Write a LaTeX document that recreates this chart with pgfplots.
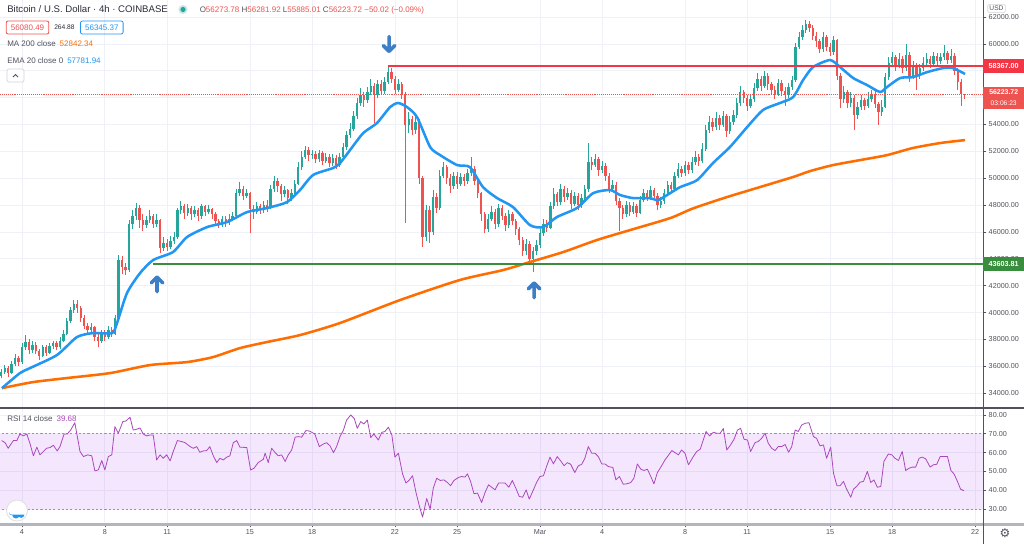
\documentclass[border=0pt]{standalone}
\usepackage{fontspec}
\setmainfont{Liberation Sans}
\newfontfamily\dejavu{DejaVu Sans}
\usepackage{pgfplots}
\pgfplotsset{compat=1.18}
\usepackage{pgfplotstable}
\definecolor{up}{HTML}{26A69A}
\definecolor{dn}{HTML}{EF5350}
\definecolor{ema}{HTML}{2196F3}
\definecolor{ma}{HTML}{FF6D00}
\definecolor{gridc}{HTML}{EEF1F7}
\definecolor{txt}{HTML}{50535E}
\definecolor{titlec}{HTML}{2A2E39}
\definecolor{axc}{HTML}{50535E}
\definecolor{resline}{HTML}{F23645}
\definecolor{supline}{HTML}{388E3C}
\definecolor{rsi}{HTML}{AB47BC}
\definecolor{rsibase}{HTML}{9C27F0}
\definecolor{dashc}{HTML}{9598A1}
\definecolor{arrowblue}{HTML}{3D7FC6}
\definecolor{botc}{HTML}{B2B5BE}

\pgfplotstableread{
o h l c
35.3 35.8 35.1 35.6
35.6 36.1 35.4 35.9
35.9 36.0 35.2 35.5
35.5 36.4 35.4 36.2
36.2 36.9 36.0 36.6
36.6 36.8 36.0 36.3
36.3 37.7 36.2 37.4
37.4 38.3 37.2 37.8
37.8 38.0 36.9 37.2
37.2 37.9 37.0 37.6
37.6 37.8 36.9 37.1
37.1 37.3 36.5 36.8
36.8 37.6 36.7 37.4
37.4 37.6 36.8 37.0
37.0 37.7 36.9 37.5
37.5 37.9 37.3 37.7
37.7 37.9 37.2 37.4
37.4 38.2 37.3 37.9
37.9 38.7 37.8 38.4
38.4 39.6 38.3 39.4
39.4 40.4 39.2 40.2
40.2 40.9 40.0 40.6
40.6 40.9 40.0 40.3
40.3 40.5 39.3 39.6
39.6 39.8 38.8 39.0
39.0 39.2 38.5 38.7
38.7 39.2 38.5 38.9
38.9 39.0 37.9 38.2
38.2 38.4 37.4 37.9
37.9 38.7 37.7 38.5
38.5 38.7 37.9 38.2
38.2 39.0 38.0 38.7
38.7 38.9 38.2 38.4
38.4 39.8 38.3 39.6
39.6 44.3 39.5 43.9
43.9 44.2 42.9 43.4
43.4 43.7 42.8 43.2
43.2 46.9 43.0 46.6
46.6 47.6 46.2 47.2
47.2 48.15 46.9 47.8
47.8 48.0 46.3 46.9
46.9 47.3 46.1 46.5
46.5 47.2 46.3 46.9
46.9 47.6 46.7 47.2
47.2 47.3 46.3 46.6
46.6 47.3 46.4 46.9
46.9 47.0 44.4 44.8
44.8 45.6 44.6 45.2
45.2 45.5 44.6 44.9
44.9 45.7 44.7 45.3
45.3 46.0 45.1 45.6
45.6 47.8 45.5 47.6
47.6 48.3 47.3 47.9
47.9 48.1 47.0 47.4
47.4 48.1 47.2 47.8
47.8 47.9 46.9 47.3
47.3 47.9 47.1 47.6
47.6 47.8 46.8 47.2
47.2 48.1 47.0 47.9
47.9 48.0 47.2 47.5
47.5 48.0 47.3 47.7
47.7 47.8 47.0 47.3
47.3 47.5 46.5 46.8
46.8 47.0 46.3 46.6
46.6 47.2 46.4 47.0
47.0 47.2 46.4 46.7
46.7 47.3 46.5 47.0
47.0 47.5 46.8 47.2
47.2 49.2 47.1 48.9
48.9 49.7 48.7 49.2
49.2 49.4 48.4 48.7
48.7 49.2 48.5 48.9
48.9 49.0 45.9 47.7
47.7 48.0 47.0 47.5
47.5 48.2 47.3 47.9
47.9 48.1 47.3 47.6
47.6 48.3 47.4 48.0
48.0 48.4 47.5 47.8
47.8 49.5 47.7 49.2
49.2 50.2 49.0 49.8
49.8 50.0 49.0 49.4
49.4 49.6 48.3 48.8
48.8 49.4 48.6 49.1
49.1 49.2 48.1 48.5
48.5 49.2 48.3 48.9
48.9 49.9 48.7 49.6
49.6 51.2 49.5 50.8
50.8 52.0 50.6 51.6
51.6 52.4 51.4 52.1
52.1 52.3 51.3 51.7
51.7 52.1 51.4 51.8
51.8 52.0 51.1 51.4
51.4 52.1 51.2 51.9
51.9 52.0 51.0 51.3
51.3 51.9 51.1 51.6
51.6 51.8 50.8 51.1
51.1 51.8 50.9 51.5
51.5 51.7 50.7 51.0
51.0 51.9 50.8 51.6
51.6 52.6 51.4 52.3
52.3 53.5 52.1 53.2
53.2 54.1 53.0 53.7
53.7 55.0 53.5 54.6
54.6 56.0 54.4 55.6
55.6 56.7 55.4 56.2
56.2 56.4 55.3 55.8
55.8 56.8 55.6 56.4
56.4 57.4 56.2 56.9
56.9 57.1 54.1 56.2
56.2 57.3 56.0 57.0
57.0 57.3 56.2 56.5
56.5 57.5 56.3 57.2
57.2 58.37 57.0 57.9
57.9 58.2 57.1 57.4
57.4 57.6 56.3 56.6
56.6 57.4 56.4 57.0
57.0 57.2 55.9 56.2
56.2 56.4 46.7 54.0
54.0 54.9 53.4 54.4
54.4 54.6 53.2 53.6
53.6 54.6 53.3 54.2
54.2 54.4 49.6 50.0
50.0 50.2 44.9 45.6
45.6 48.0 45.3 47.6
47.6 47.9 45.2 46.0
46.0 49.1 45.8 48.6
48.6 48.9 47.4 47.8
47.8 50.6 47.6 50.2
50.2 51.2 50.0 50.8
50.8 51.0 49.6 50.0
50.0 50.3 48.9 49.4
49.4 50.5 49.2 50.2
50.2 50.5 49.2 49.6
49.6 50.4 49.4 50.1
50.1 50.3 49.4 49.8
49.8 50.7 49.6 50.4
50.4 51.6 50.2 50.7
50.7 50.9 49.5 49.8
49.8 50.0 48.5 48.9
48.9 49.0 46.8 47.3
47.3 47.5 45.9 46.2
46.2 47.3 46.0 47.0
47.0 47.9 46.8 47.5
47.5 47.7 46.2 46.6
46.6 48.1 46.4 47.8
47.8 48.0 46.9 47.2
47.2 47.4 46.1 46.5
46.5 47.6 46.3 47.3
47.3 47.5 46.5 46.8
46.8 47.0 45.8 46.2
46.2 46.4 45.0 45.4
45.4 45.6 44.2 44.6
44.6 45.5 44.3 45.1
45.1 45.3 43.6 44.0
44.0 44.9 43.0 44.6
44.6 45.4 44.3 45.0
45.0 46.2 44.8 45.9
45.9 47.0 45.7 46.6
46.6 46.9 46.0 46.3
46.3 48.2 46.2 47.9
47.9 49.3 47.7 48.8
48.8 49.0 47.9 48.2
48.2 49.6 48.0 49.2
49.2 49.4 48.2 48.6
48.6 49.3 48.4 48.9
48.9 49.1 47.7 48.1
48.1 49.0 47.9 48.7
48.7 48.9 47.6 48.0
48.0 48.8 47.8 48.5
48.5 49.5 48.3 49.2
49.2 52.6 49.0 51.2
51.2 51.6 50.6 51.0
51.0 51.8 50.8 51.4
51.4 51.6 50.2 50.6
50.6 51.3 50.4 50.9
50.9 51.1 49.8 50.2
50.2 50.4 48.9 49.2
49.2 49.9 49.0 49.5
49.5 49.7 48.0 48.3
48.3 48.5 46.1 47.8
47.8 48.0 47.0 47.3
47.3 48.3 47.1 48.0
48.0 48.2 47.2 47.5
47.5 48.2 47.3 47.9
47.9 48.1 47.1 47.4
47.4 48.7 47.3 48.4
48.4 49.2 48.2 48.9
48.9 49.1 48.3 48.6
48.6 49.4 48.4 49.1
49.1 49.3 48.4 48.7
48.7 48.9 47.6 48.0
48.0 48.6 47.8 48.3
48.3 49.2 48.1 48.9
48.9 49.8 48.7 49.5
49.5 49.7 48.9 49.2
49.2 50.5 49.0 50.2
50.2 51.1 50.0 50.7
50.7 50.9 50.1 50.4
50.4 51.3 50.2 51.0
51.0 51.2 50.3 50.6
50.6 51.6 50.4 51.2
51.2 52.0 51.0 51.6
51.6 51.8 50.9 51.3
51.3 52.6 51.1 52.2
52.2 54.0 52.0 53.6
53.6 54.6 53.4 54.2
54.2 54.5 53.5 53.8
53.8 54.9 53.6 54.5
54.5 54.7 53.6 54.0
54.0 55.0 53.8 54.6
54.6 54.8 53.1 53.5
53.5 54.6 53.3 54.2
54.2 55.1 54.0 54.7
54.7 56.0 54.5 55.6
55.6 56.9 55.4 56.4
56.4 56.6 55.6 56.0
56.0 56.2 55.0 55.4
55.4 56.3 55.2 55.9
55.9 57.1 55.7 56.7
56.7 57.8 56.5 57.4
57.4 57.6 56.5 56.9
56.9 58.0 56.7 57.6
57.6 57.8 56.6 57.0
57.0 57.2 56.2 56.6
56.6 56.9 55.9 56.3
56.3 57.4 56.1 57.1
57.1 57.3 56.1 56.5
56.5 56.8 55.4 56.2
56.2 57.1 56.0 56.8
56.8 57.6 56.6 57.3
57.3 60.1 57.2 59.8
59.8 60.9 59.6 60.5
60.5 61.4 60.3 61.0
61.0 61.8 60.8 61.5
61.5 61.7 60.9 61.2
61.2 61.4 60.3 60.6
60.6 60.9 59.8 60.2
60.2 60.4 59.3 59.6
59.6 60.9 59.4 60.5
60.5 60.7 59.5 59.8
59.8 60.1 59.1 59.4
59.4 60.6 59.2 60.3
60.3 60.4 57.3 57.6
57.6 57.8 55.2 55.9
55.9 56.9 55.6 56.4
56.4 56.6 55.2 55.6
55.6 56.4 55.3 56.0
56.0 56.2 53.6 54.7
54.7 55.7 54.4 55.3
55.3 56.2 55.1 55.8
55.8 56.0 55.1 55.4
55.4 56.4 55.2 55.9
55.9 56.6 55.7 56.3
56.3 56.5 55.2 55.5
55.5 55.7 54.0 54.9
54.9 55.8 54.6 55.3
55.3 57.8 55.2 57.5
57.5 59.0 57.3 58.6
58.6 59.4 58.4 59.0
59.0 59.2 58.0 58.4
58.4 59.3 58.2 58.9
58.9 59.1 57.8 58.2
58.2 60.0 58.0 59.2
59.2 59.4 57.2 57.6
57.6 58.7 57.4 58.4
58.4 58.6 56.6 57.6
57.6 58.5 57.4 58.2
58.2 59.0 58.0 58.6
58.6 59.3 58.4 58.9
58.9 59.1 58.2 58.5
58.5 59.4 58.3 59.1
59.1 59.3 58.4 58.7
58.7 59.3 58.5 59.0
59.0 59.9 58.8 59.3
59.3 59.5 58.5 58.8
58.8 59.6 58.6 59.1
59.1 59.3 57.7 58.0
58.0 58.2 56.6 57.2
57.2 57.4 55.4 56.27
56.27 56.28 55.89 56.22
}\candles

\begin{document}
\begin{tikzpicture}
\useasboundingbox (0pt,0pt) rectangle (768pt,-408pt);
\fill[white] (0pt,0pt) rectangle (768pt,-408pt);

% ---------------- main price pane ----------------
\begin{axis}[
  at={(0pt,0pt)}, anchor=north west, scale only axis,
  width=737.25pt, height=306pt,
  xmin=-0.37, xmax=284.3, ymin=32.89, ymax=63.27,
  axis line style={draw=none},
  xtick={6,30,48,72,90,114,132,156,174,198,216,240,258,282},
  xticklabels={},
  x tick style={draw=none},
  ytick={34,36,38,40,42,44,46,48,50,52,54,56,58,60,62},
  yticklabels={34000.00,36000.00,38000.00,40000.00,42000.00,44000.00,46000.00,48000.00,50000.00,52000.00,54000.00,{},{},60000.00,62000.00},
  ytick pos=right, yticklabel pos=right,
  tick align=outside, major tick length=2.6pt,
  y tick style={draw=axc, line width=0.5pt},
  yticklabel style={font=\fontsize{5.4}{6}\selectfont, text=txt, inner sep=1.5pt},
  xmajorgrids, ymajorgrids,
  major grid style={draw=gridc, line width=0.6pt},
]
% wicks
\addplot[up, line width=0.6pt, forget plot,
  quiver={u=0,v=\thisrow{h}-\thisrow{l}},
  restrict expr to domain={\thisrow{c}-\thisrow{o}}{0:100}]
  table[x expr=\coordindex, y=l]{\candles};
\addplot[dn, line width=0.6pt, forget plot,
  quiver={u=0,v=\thisrow{h}-\thisrow{l}},
  restrict expr to domain={\thisrow{c}-\thisrow{o}}{-100:-0.0001}]
  table[x expr=\coordindex, y=l]{\candles};
% bodies
\addplot[up, line width=1.8pt, forget plot,
  quiver={u=0,v=\thisrow{c}-\thisrow{o}},
  restrict expr to domain={\thisrow{c}-\thisrow{o}}{0:100}]
  table[x expr=\coordindex, y=o]{\candles};
\addplot[dn, line width=1.8pt, forget plot,
  quiver={u=0,v=\thisrow{c}-\thisrow{o}},
  restrict expr to domain={\thisrow{c}-\thisrow{o}}{-100:-0.0001}]
  table[x expr=\coordindex, y=o]{\candles};

% MA 200
\addplot[ma, line width=1.9pt, smooth, tension=0.4] coordinates {
(0.2,34.37) (9.2,34.82) (19.0,35.12) (31.5,35.49) (43.1,36.09) (53.8,36.31) (61.3,36.68) (69.1,37.35) (76.9,37.80) (86.5,38.32) (98.1,39.22) (115.5,40.93) (132.8,42.42) (145.3,43.16) (153.1,43.76) (162.7,44.50) (172.5,45.40) (182.1,46.14) (193.7,47.03) (200.3,47.75) (210.2,48.60) (219.7,49.34) (229.3,50.09) (234.2,50.53) (240.9,50.98) (248.7,51.35) (256.5,51.72) (264.0,52.25) (271.9,52.62) (279.1,52.84)};
% EMA 20
\addplot[ema, line width=1.9pt, smooth, tension=0.4] coordinates {
(0.2,34.37) (5.4,35.49) (8.3,35.86) (16.1,36.83) (21.9,38.17) (26.6,38.47) (32.1,38.47) (33.5,39.2) (36.4,41.45) (40.2,42.94) (44.0,43.91) (49.7,44.50) (53.8,45.62) (59.6,46.36) (65.4,46.74) (71.2,47.48) (77.0,47.78) (82.7,48.22) (86.5,49.12) (90.3,50.24) (96.1,50.76) (98.1,51.13) (101.0,52.10) (104.8,53.36) (108.8,54.11) (112.6,55.30) (114.9,55.60) (117.5,55.30) (120.4,54.55) (124.2,52.32) (127.1,51.72) (132.0,50.98) (135.7,50.83) (139.5,49.34) (143.6,48.52) (148.2,47.85) (153.1,46.51) (156.9,46.36) (160.9,47.11) (166.7,47.78) (171.4,48.89) (176.3,49.12) (179.2,48.75) (183.0,48.52) (187.9,48.52) (190.2,48.37) (193.7,48.89) (196.6,49.34) (201.5,49.86) (206.1,51.13) (211.0,52.32) (216.0,53.81) (220.6,55.08) (225.5,55.60) (229.3,56.04) (232.2,57.31) (235.1,58.28) (240.0,58.80) (242.9,58.28) (246.7,57.46) (250.7,56.94) (254.5,56.42) (256.5,56.79) (260.3,57.46) (264.0,57.53) (268.1,57.90) (272.7,58.20) (275.6,58.20) (279.1,57.76)};

% current price dotted line
\addplot[dn, densely dotted, line width=0.45pt] coordinates {(-0.37,56.2237) (284.3,56.2237)};
% resistance and support
\addplot[resline, line width=1.5pt] coordinates {(112,58.367) (284.3,58.367)};
\addplot[supline, line width=1.5pt] coordinates {(43.9,43.6038) (284.3,43.6038)};

% arrows
\draw[arrowblue, line width=2.7pt, line cap=round, line join=round]
  (axis cs:112.3,60.55) -- (axis cs:112.3,59.45)
  ([xshift=-4.3pt,yshift=4.3pt]axis cs:112.3,59.45) -- (axis cs:112.3,59.45) -- ([xshift=4.3pt,yshift=4.3pt]axis cs:112.3,59.45);
\draw[arrowblue, line width=2.7pt, line cap=round, line join=round]
  (axis cs:45.1,41.55) -- (axis cs:45.1,42.64)
  ([xshift=-4.3pt,yshift=-4.3pt]axis cs:45.1,42.64) -- (axis cs:45.1,42.64) -- ([xshift=4.3pt,yshift=-4.3pt]axis cs:45.1,42.64);
\draw[arrowblue, line width=2.7pt, line cap=round, line join=round]
  (axis cs:154.3,41.1) -- (axis cs:154.3,42.19)
  ([xshift=-4.3pt,yshift=-4.3pt]axis cs:154.3,42.19) -- (axis cs:154.3,42.19) -- ([xshift=4.3pt,yshift=-4.3pt]axis cs:154.3,42.19);
\end{axis}

% ---------------- RSI pane ----------------
\begin{axis}[
  at={(0pt,-306pt)}, anchor=north west, scale only axis,
  width=737.25pt, height=87pt,
  xmin=-0.37, xmax=284.3, ymin=22.05, ymax=83.71,
  axis line style={draw=none},
  xtick={6,30,48,72,90,114,132,156,174,198,216,240,258,282},
  xticklabels={4,8,11,15,18,22,25,Mar,4,8,11,15,18,22},
  xtick pos=bottom, xticklabel pos=bottom,
  ytick={30,40,50,60,70,80},
  yticklabels={30.00,40.00,50.00,60.00,70.00,80.00},
  ytick pos=right, yticklabel pos=right,
  tick align=outside, major tick length=2.6pt,
  tick style={draw=axc, line width=0.5pt},
  yticklabel style={font=\fontsize{5.4}{6}\selectfont, text=txt, inner sep=1.5pt},
  xticklabel style={font=\fontsize{5.4}{6}\selectfont, text=txt, inner sep=1.5pt},
  xmajorgrids, ymajorgrids,
  major grid style={draw=gridc, line width=0.6pt},
]
\fill[rsibase, fill opacity=0.11] (axis cs:-1,30) rectangle (axis cs:290,70);
\draw[dashc, dash pattern=on 1.6pt off 1.6pt, line width=0.5pt] (axis cs:-1,70) -- (axis cs:290,70);
\draw[dashc, dash pattern=on 1.6pt off 1.6pt, line width=0.5pt] (axis cs:-1,30) -- (axis cs:290,30);
\addplot[rsi, line width=0.6pt, line join=round] coordinates {
(0.1,66.4) (1.1,65.3) (2.0,62.3) (3.5,66.4) (4.5,66.4) (5.4,69.9) (6.4,68.9) (7.4,69.9) (8.3,64.9) (9.3,58.3) (10.3,62.9) (11.2,58.8) (12.2,60.6) (13.1,62.3) (14.1,62.7) (15.1,63.9) (16.2,60.9) (17.0,63.2) (18.2,69.9) (19.1,69.9) (20.1,72.0) (21.3,75.9) (22.8,60.6) (23.8,57.9) (25.0,58.8) (26.2,58.3) (27.1,50.3) (28.1,50.8) (29.1,55.8) (30.0,50.8) (31.0,57.9) (32.0,58.8) (32.9,73.8) (33.9,70.3) (35.2,76.5) (36.1,76.8) (37.3,78.8) (38.2,72.0) (39.2,72.4) (40.2,73.1) (41.1,69.9) (42.1,68.9) (43.1,69.4) (44.0,69.4) (45.0,56.1) (46.0,58.8) (46.9,57.0) (47.9,58.8) (48.9,55.6) (49.8,60.6) (51.0,66.4) (52.2,65.9) (53.2,65.3) (54.7,63.2) (55.6,62.3) (56.6,63.2) (57.5,60.2) (58.5,60.9) (59.5,61.1) (60.4,63.2) (61.4,58.3) (62.4,54.7) (63.3,57.0) (64.3,56.1) (65.3,57.6) (66.2,58.3) (67.2,65.3) (68.2,66.4) (69.1,62.9) (71.1,62.7) (72.2,50.8) (73.2,51.7) (74.4,54.7) (75.9,56.5) (76.4,59.7) (77.3,54.7) (78.3,62.3) (79.3,60.0) (80.2,58.3) (81.2,58.8) (82.2,55.3) (83.1,58.8) (84.1,61.4) (85.1,68.2) (86.0,68.5) (87.0,68.2) (88.2,71.7) (89.2,71.5) (90.8,69.9) (92.1,63.2) (93.3,64.6) (94.2,65.3) (95.2,63.6) (96.2,60.0) (97.1,63.2) (98.1,68.5) (99.1,72.0) (100.0,77.3) (101.2,80.0) (102.2,78.2) (103.1,72.9) (104.1,76.5) (105.0,75.2) (106.0,77.3) (107.0,68.0) (107.9,69.9) (109.2,66.7) (110.2,70.8) (111.1,71.2) (112.1,73.5) (113.1,69.4) (114.0,57.6) (115.0,59.7) (116.2,48.7) (117.2,43.8) (118.2,45.5) (119.1,47.7) (120.1,38.8) (121.1,31.4) (122.0,25.7) (123.2,35.6) (124.2,30.0) (125.1,41.1) (126.1,46.4) (127.1,45.2) (128.2,45.5) (129.2,44.1) (130.1,42.4) (131.1,45.2) (132.4,46.8) (133.3,47.3) (134.3,47.0) (135.0,48.7) (135.9,44.7) (136.9,38.1) (137.9,38.5) (139.1,33.5) (140.1,38.8) (141.1,42.9) (142.0,41.6) (143.0,40.2) (144.0,43.8) (144.9,43.8) (145.9,43.8) (147.0,41.6) (148.0,45.2) (149.0,41.1) (150.0,36.7) (151.0,36.3) (152.0,40.2) (152.9,35.3) (154.1,40.2) (155.0,44.1) (156.0,47.3) (157.0,47.7) (157.9,52.6) (158.9,57.6) (159.9,54.0) (161.0,57.9) (162.0,55.6) (163.0,53.0) (163.9,54.7) (164.9,53.8) (166.1,49.4) (167.1,53.0) (168.1,53.8) (169.0,57.0) (170.0,63.2) (171.0,59.7) (171.9,59.7) (172.9,57.9) (173.9,54.0) (174.8,54.0) (175.8,52.6) (177.1,52.1) (178.0,45.5) (179.0,47.3) (180.1,43.2) (181.1,43.4) (182.3,44.1) (183.2,46.4) (184.2,54.0) (185.2,51.2) (186.1,50.5) (187.1,51.2) (188.1,47.3) (189.0,43.4) (190.0,49.4) (191.0,52.3) (192.2,56.1) (194.2,61.1) (196.1,58.8) (197.0,61.4) (198.0,59.7) (199.0,53.5) (200.4,57.9) (201.4,60.6) (202.4,61.8) (204.1,71.2) (205.1,68.9) (206.2,70.8) (207.2,70.3) (208.2,70.3) (209.1,72.8) (210.1,61.4) (211.2,64.1) (212.2,67.1) (213.2,72.0) (214.1,72.9) (215.1,67.1) (216.1,66.7) (217.0,60.6) (218.3,65.3) (219.2,65.9) (220.2,67.6) (221.2,70.3) (222.1,65.0) (223.1,62.3) (224.1,61.1) (225.0,63.2) (226.0,63.2) (227.0,64.3) (228.0,60.2) (228.9,63.2) (229.9,72.0) (230.8,71.2) (231.8,74.7) (232.8,75.6) (233.9,75.9) (235.2,68.5) (236.1,67.6) (237.1,63.6) (238.1,64.1) (239.0,57.0) (240.2,62.9) (241.0,49.1) (242.0,42.4) (242.9,42.4) (243.9,44.7) (244.8,40.6) (246.0,36.3) (246.8,40.6) (247.7,42.0) (248.7,44.3) (249.7,44.7) (250.8,50.0) (251.8,44.1) (252.7,45.5) (253.7,41.6) (254.7,42.0) (255.6,55.3) (256.9,59.3) (257.9,58.8) (258.8,57.0) (259.8,55.8) (260.9,60.6) (261.9,50.5) (262.9,51.7) (263.8,52.3) (264.8,52.3) (265.8,57.0) (266.7,57.6) (267.7,56.7) (269.0,52.3) (269.9,53.5) (270.9,53.8) (271.9,57.9) (272.8,57.9) (274.0,57.9) (275.0,50.5) (275.9,48.7) (276.9,44.7) (277.8,40.6) (278.8,39.7)};
\end{axis}

% ---------------- frame, labels, legend ----------------
\begin{scope}[x=0.75pt,y=-0.75pt]
\draw[axc, line width=0.9pt] (0,408) -- (1024,408);
\draw[botc, line width=1.8pt] (0,524.5) -- (1024,524.5);
\draw[axc, line width=0.7pt] (983,0) -- (983,544);

% right-hand labels
\node[font=\fontsize{5}{6}\selectfont, text=txt, draw=gray!35, rounded corners=1pt, inner sep=1.3pt] at (996.5,8.5) {USD};
\fill[resline] (983.4,59) rectangle (1024,73);
\node[font=\bfseries\fontsize{5.4}{6}\selectfont, text=white, inner sep=0] at (1003.7,66) {58367.00};
\fill[dn] (983.4,86.5) rectangle (1024,108.5);
\node[font=\bfseries\fontsize{5.2}{6}\selectfont, text=white, inner sep=0] at (1003.7,92.3) {56223.72};
\node[font=\fontsize{5}{6}\selectfont, text=white, inner sep=0] at (1003.7,102.8) {03:06:23};
\fill[supline] (983.4,257) rectangle (1024,271);
\node[font=\bfseries\fontsize{5.4}{6}\selectfont, text=white, inner sep=0] at (1003.7,264) {43603.81};

% top-left legend
\node[anchor=base west, inner sep=0, font=\fontsize{7.2}{8}\selectfont, text=titlec] at (7,12.5) {Bitcoin / U.S. Dollar · 4h · COINBASE};
\fill[up!25] (183,9.5) circle (4.6);
\fill[up] (183,9.5) circle (2.6);
\node[anchor=base west, inner sep=0, font=\fontsize{6}{7}\selectfont] at (199.5,12.5) {\textcolor{txt}{O}\textcolor{dn}{56273.78} \textcolor{txt}{H}\textcolor{dn}{56281.92} \textcolor{txt}{L}\textcolor{dn}{55885.01} \textcolor{txt}{C}\textcolor{dn}{56223.72 −50.02 (−0.09\%)}};
\node[draw=dn, line width=0.6pt, rounded corners=1.5pt, text=dn, font=\fontsize{6}{7}\selectfont, minimum width=32pt, minimum height=9.8pt, inner sep=0.5pt] at (27.5,27.5) {56080.49};
\node[anchor=west, inner sep=0, font=\fontsize{5}{6}\selectfont, text=titlec] at (54,27.5) {264.88};
\node[draw=ema, line width=0.6pt, rounded corners=1.5pt, text=ema, font=\fontsize{6}{7}\selectfont, minimum width=32pt, minimum height=9.8pt, inner sep=0.5pt] at (101.8,27.5) {56345.37};
\node[anchor=base west, inner sep=0, font=\fontsize{6}{7}\selectfont] at (7,46.5) {\textcolor{txt}{MA 200 close}\hspace{3pt}\textcolor{ma}{52842.34}};
\node[anchor=base west, inner sep=0, font=\fontsize{6}{7}\selectfont] at (7,63.5) {\textcolor{txt}{EMA 20 close 0}\hspace{3pt}\textcolor{ema}{57781.94}};
\draw[gray!35, line width=0.5pt, rounded corners=1.5pt, fill=white] (7,69) rectangle (24,82);
\draw[txt, line width=0.6pt] (13,77) -- (15.5,74.5) -- (18,77);

% RSI legend
\node[anchor=base west, inner sep=0, font=\fontsize{6}{7}\selectfont] at (7,421.5) {\textcolor{txt}{RSI 14 close}\hspace{3pt}\textcolor{rsi}{39.68}};

% logo
\fill[white] (17,510.5) circle (10.5);
\draw[gray!25, line width=0.6pt] (17,510.5) circle (10.5);
\fill[ema] (9.5,514.5) -- (9.5,512) arc (180:90:2.5) arc (180:40:4) arc (130:0:3.2) -- (24.5,514.5) -- cycle;
\draw[white, line width=0.9pt, line join=round] (10,513.5) -- (13.5,510.5) -- (17,513) -- (20.5,509.5) -- (24,512);

% gear
\node[text=txt, font=\dejavu\fontsize{9}{10}\selectfont, inner sep=0] at (1005,533.5) {⚙};
\end{scope}
\end{tikzpicture}
\end{document}
